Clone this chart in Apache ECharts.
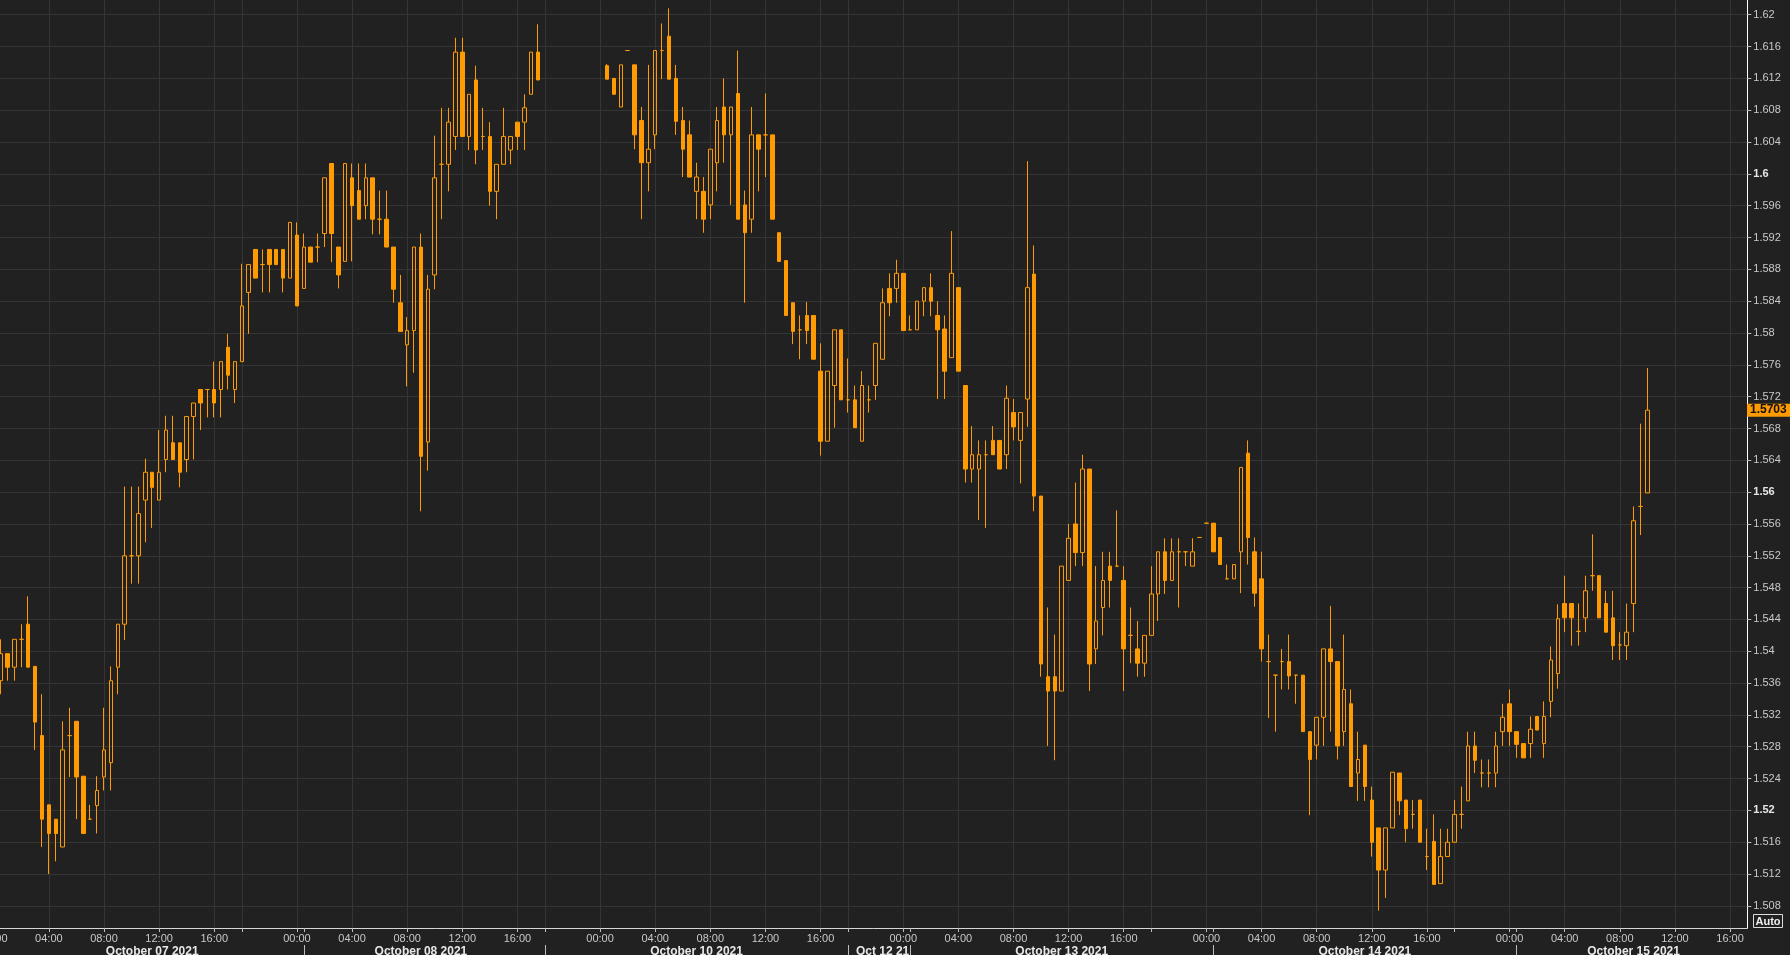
<!DOCTYPE html>
<html><head><meta charset="utf-8">
<script src="https://cdn.jsdelivr.net/npm/echarts@6/dist/echarts.min.js"></script>
<style>html,body{margin:0;padding:0;background:#212121;}#c{width:1790px;height:955px;}</style>
</head><body><div id="c"></div>
<script>
// ---- price data, one value per 30-minute slot (slot 0 = Oct 07 00:00) ----
const opens = [null,
1.5363,1.5397,1.5380,1.5415,1.5434,1.5381,1.5294,1.5207,1.5189,1.5154,
1.5294,1.5312,1.5243,1.5189,1.5206,1.5242,1.5260,1.5380,1.5434,1.5520,
1.5520,1.5590,1.5625,1.5590,1.5641,1.5662,1.5662,1.5641,1.5695,1.5729,
1.5729,1.5729,1.5729,1.5782,1.5729,1.5764,1.5851,1.5905,1.5886,1.5905,
1.5905,1.5905,1.5869,1.5923,1.5856,1.5908,1.5908,1.5925,1.6013,1.5908,
1.5890,1.5995,1.5979,1.5960,1.5995,1.5943,1.5943,1.5908,1.5838,1.5785,
1.5803,1.5908,1.5663,1.5873,1.6012,1.6012,1.6047,1.6153,1.6047,1.6118,
1.6047,1.6047,1.5978,1.6012,1.6030,1.6065,1.6065,1.6100,1.6153,null,
null,null,null,null,null,null,null,null,1.6136,1.6120,
1.6084,1.6155,1.6137,1.6067,1.6014,1.6049,1.6155,1.6173,1.6120,1.6067,
1.6049,1.5978,1.5978,1.5961,1.6014,1.6084,1.6049,1.6101,1.5961,1.5943,
1.6049,1.6049,1.6049,1.5926,1.5891,1.5838,1.5804,1.5822,1.5822,1.5752,
1.5664,1.5734,1.5804,1.5716,1.5716,1.5664,1.5716,1.5734,1.5767,1.5856,
1.5856,1.5875,1.5804,1.5804,1.5840,1.5857,1.5822,1.5805,1.5769,1.5857,
1.5734,1.5629,1.5629,1.5647,1.5665,1.5665,1.5647,1.5700,1.5665,1.5717,
1.5874,1.5595,1.5368,1.5368,1.5350,1.5489,1.5560,1.5524,1.5629,1.5403,
1.5455,1.5507,1.5507,1.5489,1.5420,1.5403,1.5385,1.5420,1.5472,1.5525,
1.5489,1.5525,1.5525,1.5507,1.5543,1.5561,1.5561,1.5543,1.5491,1.5491,
1.5525,1.5649,1.5525,1.5491,1.5387,1.5370,1.5387,1.5387,1.5370,1.5370,
1.5299,1.5282,1.5317,1.5403,1.5387,1.5299,1.5334,1.5247,1.5282,1.5213,
1.5178,1.5125,1.5178,1.5247,1.5213,1.5195,1.5213,1.5142,1.5161,1.5108,
1.5142,1.5160,1.5195,1.5212,1.5281,1.5247,1.5247,1.5247,1.5299,1.5334,
1.5299,1.5284,1.5284,1.5318,1.5284,1.5337,1.5372,1.5460,1.5460,1.5425,
1.5442,1.5495,1.5495,1.5460,1.5442,1.5408,1.5407,1.5460,1.5582,1.5599];

const highs = [null,
1.5415,1.5397,1.5415,1.5434,1.5469,1.5381,1.5346,1.5207,1.5189,1.5312,
1.5329,1.5312,1.5243,1.5207,1.5243,1.5329,1.5381,1.5434,1.5607,1.5607,
1.5607,1.5642,1.5625,1.5678,1.5696,1.5696,1.5662,1.5695,1.5712,1.5729,
1.5729,1.5764,1.5764,1.5799,1.5764,1.5887,1.5886,1.5905,1.5905,1.5905,
1.5905,1.5905,1.5939,1.5939,1.5925,1.5908,1.5925,1.5995,1.6013,1.5908,
1.6013,1.6013,1.6013,1.6013,1.5995,1.5979,1.5979,1.5908,1.5873,1.5820,
1.5908,1.5925,1.5873,1.6048,1.6083,1.6083,1.6171,1.6171,1.6100,1.6136,
1.6083,1.6065,1.6012,1.6083,1.6047,1.6065,1.6100,1.6153,1.6188,null,
null,null,null,null,null,null,null,null,1.6138,1.6120,
1.6137,1.6155,1.6137,1.6084,1.6137,1.6155,1.6189,1.6208,1.6137,1.6084,
1.6067,1.6014,1.5996,1.6031,1.6084,1.6120,1.6084,1.6155,1.5979,1.6084,
1.6049,1.6101,1.6049,1.5926,1.5891,1.5838,1.5822,1.5839,1.5822,1.5787,
1.5752,1.5804,1.5804,1.5768,1.5734,1.5752,1.5734,1.5787,1.5856,1.5875,
1.5892,1.5875,1.5822,1.5840,1.5857,1.5875,1.5840,1.5822,1.5928,1.5857,
1.5734,1.5683,1.5665,1.5665,1.5683,1.5665,1.5734,1.5717,1.5700,1.6016,
1.5910,1.5595,1.5455,1.5421,1.5507,1.5560,1.5612,1.5647,1.5629,1.5507,
1.5525,1.5525,1.5577,1.5507,1.5455,1.5438,1.5420,1.5507,1.5525,1.5542,
1.5542,1.5542,1.5525,1.5542,1.5543,1.5561,1.5561,1.5543,1.5509,1.5509,
1.5631,1.5665,1.5543,1.5525,1.5421,1.5370,1.5403,1.5421,1.5370,1.5370,
1.5299,1.5317,1.5403,1.5457,1.5387,1.5421,1.5352,1.5299,1.5282,1.5230,
1.5178,1.5178,1.5248,1.5247,1.5213,1.5213,1.5213,1.5177,1.5195,1.5177,
1.5177,1.5213,1.5230,1.5299,1.5299,1.5264,1.5264,1.5299,1.5334,1.5352,
1.5299,1.5284,1.5318,1.5318,1.5337,1.5406,1.5459,1.5495,1.5460,1.5460,
1.5495,1.5547,1.5495,1.5476,1.5476,1.5424,1.5460,1.5582,1.5686,1.5756];

const lows = [null,
1.5346,1.5363,1.5363,1.5380,1.5380,1.5276,1.5154,1.5120,1.5136,1.5154,
1.5242,1.5189,1.5171,1.5189,1.5171,1.5225,1.5225,1.5346,1.5414,1.5485,
1.5485,1.5537,1.5555,1.5590,1.5625,1.5641,1.5606,1.5625,1.5641,1.5678,
1.5694,1.5694,1.5694,1.5729,1.5712,1.5764,1.5799,1.5869,1.5851,1.5851,
1.5886,1.5851,1.5869,1.5834,1.5856,1.5889,1.5889,1.5908,1.5889,1.5856,
1.5890,1.5890,1.5943,1.5943,1.5924,1.5924,1.5908,1.5838,1.5802,1.5733,
1.5750,1.5576,1.5627,1.5855,1.5943,1.5978,1.6030,1.6047,1.6030,1.6012,
1.6030,1.5960,1.5943,1.6012,1.6012,1.6030,1.6030,1.6100,1.6118,null,
null,null,null,null,null,null,null,null,1.6119,1.6100,
1.6084,1.6155,1.6031,1.5943,1.5978,1.6031,1.6119,1.6119,1.6049,1.5996,
1.5996,1.5943,1.5926,1.5943,1.5978,1.6014,1.5961,1.5943,1.5838,1.5926,
1.5978,1.5996,1.5943,1.5890,1.5822,1.5786,1.5767,1.5786,1.5767,1.5646,
1.5664,1.5681,1.5716,1.5700,1.5681,1.5664,1.5700,1.5716,1.5767,1.5821,
1.5838,1.5803,1.5804,1.5804,1.5821,1.5821,1.5717,1.5717,1.5769,1.5752,
1.5612,1.5612,1.5565,1.5555,1.5647,1.5629,1.5629,1.5665,1.5611,1.5682,
1.5576,1.5368,1.5281,1.5263,1.5350,1.5489,1.5507,1.5507,1.5350,1.5384,
1.5420,1.5455,1.5507,1.5350,1.5385,1.5368,1.5368,1.5420,1.5438,1.5472,
1.5489,1.5455,1.5507,1.5507,1.5543,1.5561,1.5525,1.5509,1.5491,1.5491,
1.5473,1.5509,1.5456,1.5387,1.5316,1.5299,1.5352,1.5352,1.5334,1.5299,
1.5194,1.5264,1.5281,1.5299,1.5264,1.5281,1.5230,1.5212,1.5212,1.5142,
1.5074,1.5090,1.5178,1.5194,1.5160,1.5177,1.5160,1.5125,1.5107,1.5108,
1.5142,1.5160,1.5177,1.5212,1.5247,1.5229,1.5229,1.5229,1.5281,1.5281,
1.5266,1.5266,1.5266,1.5301,1.5266,1.5317,1.5353,1.5424,1.5407,1.5407,
1.5424,1.5476,1.5442,1.5424,1.5389,1.5389,1.5389,1.5424,1.5546,1.5599];

const closes = [null,
1.5397,1.5380,1.5415,1.5415,1.5380,1.5311,1.5189,1.5171,1.5171,1.5276,
1.5294,1.5242,1.5171,1.5189,1.5225,1.5276,1.5363,1.5434,1.5520,1.5520,
1.5573,1.5625,1.5606,1.5625,1.5678,1.5641,1.5625,1.5695,1.5712,1.5712,
1.5729,1.5712,1.5764,1.5747,1.5764,1.5834,1.5886,1.5869,1.5886,1.5886,
1.5886,1.5869,1.5939,1.5834,1.5908,1.5889,1.5908,1.5995,1.5925,1.5873,
1.6013,1.5960,1.5943,1.5995,1.5943,1.5943,1.5908,1.5855,1.5802,1.5803,
1.5908,1.5645,1.5855,1.5995,1.6012,1.6065,1.6153,1.6047,1.6100,1.6030,
1.6047,1.5978,1.6012,1.6047,1.6047,1.6047,1.6083,1.6153,1.6118,null,
null,null,null,null,null,null,null,null,1.6119,1.6100,
1.6137,1.6155,1.6049,1.6014,1.6031,1.6155,1.6155,1.6119,1.6066,1.6031,
1.5996,1.5996,1.5943,1.6031,1.6067,1.6049,1.6084,1.5943,1.5926,1.6049,
1.6031,1.6049,1.5943,1.5890,1.5822,1.5802,1.5804,1.5803,1.5767,1.5664,
1.5752,1.5804,1.5716,1.5716,1.5681,1.5734,1.5716,1.5787,1.5838,1.5838,
1.5875,1.5803,1.5804,1.5840,1.5857,1.5840,1.5804,1.5752,1.5875,1.5752,
1.5629,1.5647,1.5647,1.5647,1.5647,1.5629,1.5718,1.5682,1.5700,1.5857,
1.5595,1.5384,1.5350,1.5350,1.5507,1.5542,1.5524,1.5629,1.5384,1.5438,
1.5489,1.5489,1.5507,1.5403,1.5420,1.5385,1.5420,1.5472,1.5525,1.5489,
1.5525,1.5525,1.5525,1.5525,1.5543,1.5561,1.5525,1.5509,1.5491,1.5509,
1.5631,1.5543,1.5473,1.5403,1.5387,1.5370,1.5387,1.5369,1.5370,1.5299,
1.5264,1.5317,1.5403,1.5387,1.5281,1.5352,1.5230,1.5264,1.5230,1.5160,
1.5125,1.5178,1.5248,1.5212,1.5177,1.5195,1.5160,1.5142,1.5107,1.5142,
1.5160,1.5195,1.5195,1.5281,1.5263,1.5247,1.5247,1.5281,1.5317,1.5299,
1.5283,1.5266,1.5302,1.5301,1.5318,1.5389,1.5441,1.5442,1.5442,1.5425,
1.5476,1.5495,1.5442,1.5424,1.5407,1.5408,1.5424,1.5564,1.5582,1.5703];

// ---- axis structure ----
const SLOT_COUNT = 255;                 // 30-minute slots shown on the axis
const dayStarts = [0, 44, 88, 132, 176, 220];
const hourOffsets = [0, 8, 16, 24, 32];
const hourLabels = ['00:00', '04:00', '08:00', '12:00', '16:00'];
const sessionOffset = 36;
const dateSeparators = [45, 80, 124, 133, 177, 221];
const dateLabelSlots = [23, 62, 102, 129, 155, 199, 238];
const dateLabels = ['October 07 2021', 'October 08 2021', 'October 10 2021', 'Oct 12 21',
                    'October 13 2021', 'October 14 2021', 'October 15 2021'];
const yTicks = [1.508,1.512,1.516,1.52,1.524,1.528,1.532,1.536,1.54,1.544,1.548,1.552,1.556,
                1.56,1.564,1.568,1.572,1.576,1.58,1.584,1.588,1.592,1.596,1.6,1.604,1.608,
                1.612,1.616,1.62];
const yMin = 1.50522, yMax = 1.62185;
const lastPrice = 1.5703;

// ---- build ----
const categories = [];
for (let k = 0; k < SLOT_COUNT; k++) categories.push('s' + k);

const timeLabelMap = {};
const timeTickSet = new Set(dateSeparators);
const gridSlots = [];
dayStarts.forEach(d => {
  hourOffsets.forEach((o, j) => {
    const k = d + o;
    if (k < SLOT_COUNT) { timeLabelMap[k] = hourLabels[j]; timeTickSet.add(k); gridSlots.push(k); }
  });
  const s = d + sessionOffset;
  if (s < SLOT_COUNT) { timeTickSet.add(s); gridSlots.push(s); }
});
const dateLabelMap = {};
dateLabelSlots.forEach((k, i) => { dateLabelMap[k] = dateLabels[i]; });
const sepSet = new Set(dateSeparators);

const candleData = opens.map((o, i) => o == null ? '-' : [o, closes[i], lows[i], highs[i]]);

const ORANGE = '#FF9A00';
const FONT = 'Liberation Sans';

const fmtY = v => String(+(+v).toFixed(3));
const isMajor = v => Math.abs(v * 25 - Math.round(v * 25)) < 1e-6;

const chart = echarts.init(document.getElementById('c'), null, {renderer: 'canvas'});
chart.setOption({
  backgroundColor: '#212121',
  animation: false,
  grid: {left: -9.7, top: 0, width: 1757, height: 928, containLabel: false, outerBoundsMode: 'none', show: false},
  xAxis: [{
    type: 'category', data: categories, position: 'bottom', boundaryGap: true,
    axisLine: {show: true, onZero: false, lineStyle: {color: '#d6d6d6', width: 1}},
    axisTick: {show: true, alignWithLabel: true, length: 4, interval: (i) => timeTickSet.has(i),
               lineStyle: {color: '#bdbdbd', width: 1}},
    axisLabel: {show: true, interval: (i) => timeLabelMap[i] !== undefined,
                formatter: (v, i) => timeLabelMap[i] || '', color: '#c9c9c9',
                fontFamily: FONT, fontSize: 11, margin: 5, hideOverlap: false},
    splitLine: {show: false}
  }, {
    type: 'category', data: categories, position: 'bottom', offset: 17, boundaryGap: true,
    axisLine: {show: false},
    axisTick: {show: true, alignWithLabel: true, length: 14, interval: (i) => sepSet.has(i),
               lineStyle: {color: '#bdbdbd', width: 1}},
    axisLabel: {show: true, interval: (i) => dateLabelMap[i] !== undefined,
                formatter: (v, i) => dateLabelMap[i] || '', color: '#e8e8e8',
                fontFamily: FONT, fontSize: 12, fontWeight: 'bold', margin: 1, hideOverlap: false},
    splitLine: {show: false}
  }],
  yAxis: {
    type: 'value', position: 'right', min: yMin, max: yMax, scale: true,
    axisLine: {show: true, lineStyle: {color: '#ffffff', width: 1}},
    axisTick: {show: true, length: 4, customValues: yTicks, lineStyle: {color: '#bdbdbd'}},
    axisLabel: {show: true, customValues: yTicks, margin: 6,
                formatter: v => (isMajor(v) ? '{b|' : '{n|') + fmtY(v) + '}',
                rich: {
                  n: {color: '#c9c9c9', fontFamily: FONT, fontSize: 11},
                  b: {color: '#e6e6e6', fontFamily: FONT, fontSize: 11, fontWeight: 'bold'}
                }},
    splitLine: {show: true, lineStyle: {color: '#353535', width: 1}}
  },
  series: [{
    type: 'candlestick', data: candleData, xAxisIndex: 0, yAxisIndex: 0,
    barWidth: 4,
    itemStyle: {color: 'transparent', color0: ORANGE, borderColor: ORANGE, borderColor0: ORANGE, borderWidth: 1},
    emphasis: {disabled: true},
    markLine: {
      silent: true, z: 1, symbol: ['none', 'none'], animation: false,
      label: {show: false},
      lineStyle: {color: '#353535', width: 1, type: 'solid'},
      emphasis: {disabled: true},
      data: gridSlots.map(k => ({xAxis: k}))
    }
  }]
});

// last-price tag placed through the y scale of the chart
const py = chart.convertToPixel({yAxisIndex: 0}, lastPrice);
chart.setOption({
  graphic: [
    {type: 'text', z: 100, x: 1747, y: py,
     style: {text: lastPrice.toFixed(4), fill: '#111', font: 'bold 12px "Liberation Sans"',
             backgroundColor: ORANGE, padding: [1, 4, 0, 3], align: 'left', verticalAlign: 'middle'}},
    {type: 'rect', z: 100, shape: {x: 1753.5, y: 914.5, width: 29, height: 13},
     style: {fill: '#212121', stroke: '#dcdcdc', lineWidth: 1}},
    {type: 'text', z: 101, x: 1768, y: 921.5,
     style: {text: 'Auto', fill: '#f0f0f0', font: 'bold 11px "Liberation Sans"', align: 'center', verticalAlign: 'middle'}}
  ]
});
</script>
</body></html>
